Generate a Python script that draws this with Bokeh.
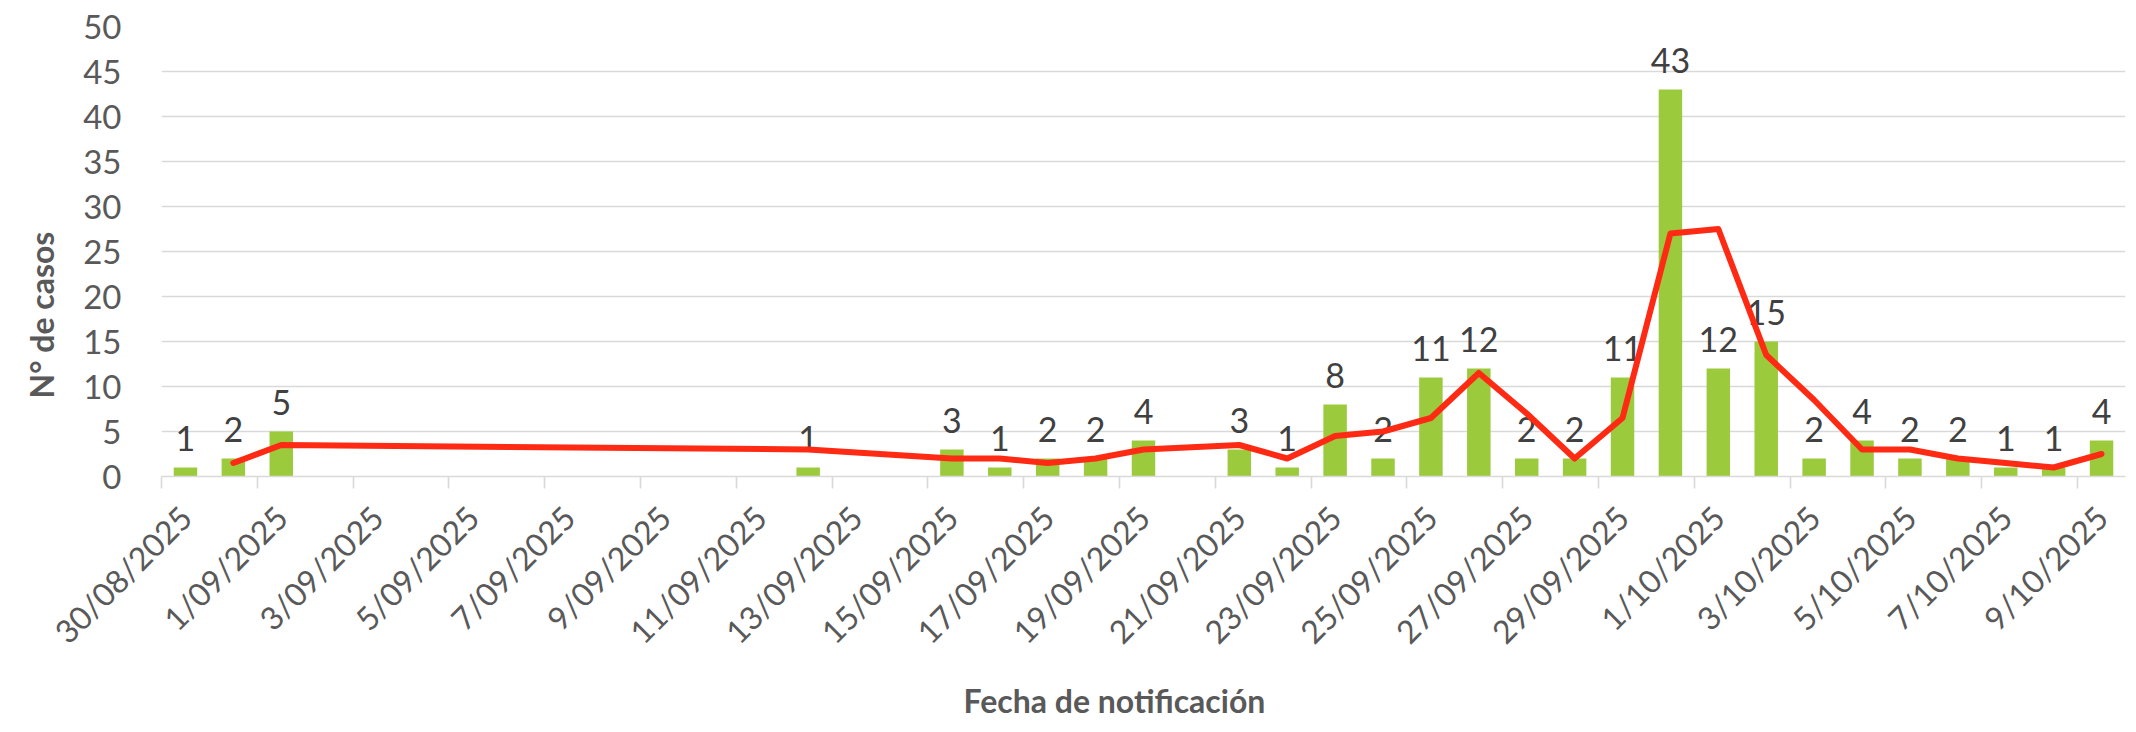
from datetime import datetime
from math import pi

from bokeh.plotting import figure
from bokeh.models import ColumnDataSource, FixedTicker, Range1d, Title
from bokeh.core.properties import value
from bokeh.embed import file_html
from bokeh.resources import INLINE

# ---------------- data ----------------
fecha_inicio = "30/08/2025"
fechas = ["30/08/2025", "31/08/2025", "1/09/2025", "12/09/2025", "15/09/2025",
          "16/09/2025", "17/09/2025", "18/09/2025", "19/09/2025", "21/09/2025",
          "22/09/2025", "23/09/2025", "24/09/2025", "25/09/2025", "26/09/2025",
          "27/09/2025", "28/09/2025", "29/09/2025", "30/09/2025", "1/10/2025",
          "2/10/2025", "3/10/2025", "4/10/2025", "5/10/2025", "6/10/2025",
          "7/10/2025", "8/10/2025", "9/10/2025"]
casos = [1, 2, 5, 1, 3, 1, 2, 2, 4, 3, 1, 8, 2, 11, 12, 2, 2, 11, 43, 12, 15,
         2, 4, 2, 2, 1, 1, 4]

fechas_media = ["31/08/2025", "1/09/2025", "12/09/2025", "15/09/2025",
                "16/09/2025", "17/09/2025", "18/09/2025", "19/09/2025", "21/09/2025",
                "22/09/2025", "23/09/2025", "24/09/2025", "25/09/2025", "26/09/2025",
                "27/09/2025", "28/09/2025", "29/09/2025", "30/09/2025", "1/10/2025",
                "2/10/2025", "3/10/2025", "4/10/2025", "5/10/2025", "6/10/2025",
                "7/10/2025", "8/10/2025", "9/10/2025"]
media_movil = [1.5, 3.5, 3, 2, 2, 1.5, 2, 3, 3.5, 2, 4.5, 5, 6.5, 11.5, 7, 2,
               6.5, 27, 27.5, 13.5, 8.5, 3, 3, 2, 1.5, 1, 2.5]

etiquetas_x = ["30/08/2025", "1/09/2025", "3/09/2025", "5/09/2025", "7/09/2025",
               "9/09/2025", "11/09/2025", "13/09/2025", "15/09/2025", "17/09/2025",
               "19/09/2025", "21/09/2025", "23/09/2025", "25/09/2025", "27/09/2025",
               "29/09/2025", "1/10/2025", "3/10/2025", "5/10/2025", "7/10/2025",
               "9/10/2025"]
etiquetas_y = [0, 5, 10, 15, 20, 25, 30, 35, 40, 45, 50]

titulo_y = "N° de casos"
titulo_x = "Fecha de notificación"

# ---------------- helpers ----------------
inicio = datetime.strptime(fecha_inicio, "%d/%m/%Y")


def dia(s):
    return (datetime.strptime(s, "%d/%m/%Y") - inicio).days


x_bar = [dia(f) for f in fechas]
x_media = [dia(f) for f in fechas_media]
x_ticks = [dia(f) for f in etiquetas_x]
n_dias = dia(fechas[-1]) + 1

src_bar = ColumnDataSource(dict(x=x_bar, casos=casos, txt=[str(c) for c in casos]))
src_line = ColumnDataSource(dict(x=x_media, y=media_movil))

FONT = "Lato"
GRIS = "#595959"

p = figure(width=2136, height=732, output_backend="svg", toolbar_location=None,
           x_range=Range1d(-0.5, n_dias - 0.5), y_range=Range1d(0, 50),
           min_border_left=154, min_border_right=11, min_border_top=26,
           min_border_bottom=256)
p.outline_line_color = None
p.background_fill_color = "white"
p.border_fill_color = "white"

# grid
p.xgrid.grid_line_color = None
p.ygrid.grid_line_color = "#d9d9d9"
p.ygrid.grid_line_width = 1.6

# y axis
p.yaxis.ticker = FixedTicker(ticks=etiquetas_y)
p.yaxis.axis_line_color = None
p.yaxis.major_tick_line_color = None
p.yaxis.minor_tick_line_color = None
p.yaxis.major_label_text_font = FONT
p.yaxis.major_label_text_font_size = "33px"
p.yaxis.major_label_text_color = GRIS
p.yaxis.major_label_standoff = 34

# x axis
p.xaxis.ticker = FixedTicker(ticks=x_ticks,
                             minor_ticks=[t - 0.5 for t in x_ticks])
p.xaxis.major_label_overrides = {t: lab for t, lab in zip(x_ticks, etiquetas_x)}
p.xaxis.major_tick_line_color = None
p.xaxis.minor_tick_line_color = "#d9d9d9"
p.xaxis.minor_tick_line_width = 1.6
p.xaxis.minor_tick_out = 12
p.xaxis.minor_tick_in = 0
p.xaxis.axis_line_color = "#d9d9d9"
p.xaxis.axis_line_width = 1.6
p.xaxis.major_label_orientation = pi / 4
p.xaxis.major_label_text_font = FONT
p.xaxis.major_label_text_font_size = "32px"
p.xaxis.major_label_text_color = GRIS
p.xaxis.major_label_standoff = 23

# bars
p.vbar(x="x", top="casos", width=0.49, source=src_bar,
       fill_color="#9bcb3c", line_color=None)

# data labels
p.text(x="x", y="casos", text="txt", source=src_bar,
       text_align="center", text_baseline="alphabetic", y_offset=-29,
       text_font=value(FONT), text_font_size="34px", text_color="#404040")

# moving average line
p.line(x="x", y="y", source=src_line, line_color="#ff2a14", line_width=6,
       line_join="round", line_cap="round")

# axis titles
p.add_layout(Title(text=titulo_y, align="left", offset=78, standoff=39,
                   text_font=FONT, text_font_style="bold", text_font_size="32px",
                   text_color=GRIS), "left")
p.add_layout(Title(text=titulo_x, align="left", offset=802, standoff=23,
                   text_font=FONT, text_font_style="bold", text_font_size="32px",
                   text_color=GRIS), "below")

open("out.html", "w").write(file_html(p, INLINE))
